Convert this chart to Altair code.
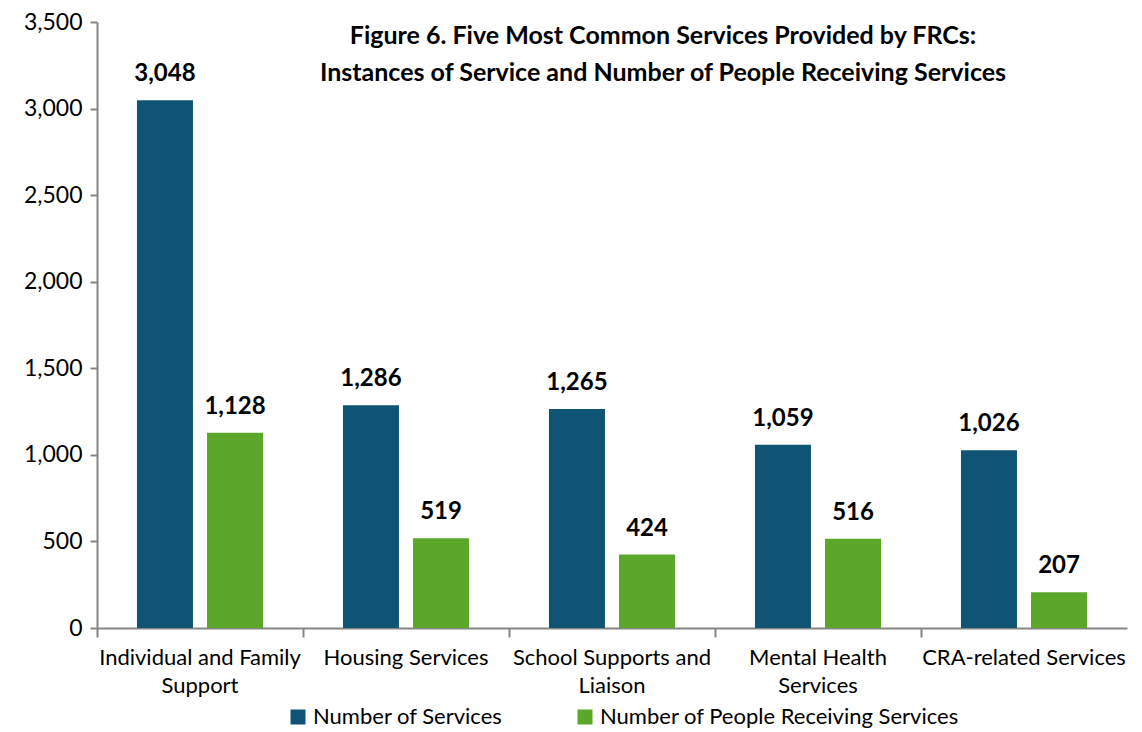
import altair as alt
import pandas as pd

categories = ["Individual and Family|Support", "Housing Services", "School Supports and|Liaison",
              "Mental Health|Services", "CRA-related Services"]
series = ["Number of Services", "Number of People Receiving Services"]
services = [3048, 1286, 1265, 1059, 1026]
people = [1128, 519, 424, 516, 207]
y_ticks = [0, 500, 1000, 1500, 2000, 2500, 3000, 3500]

rows = []
for c, a, b in zip(categories, services, people):
    rows.append({"cat": c, "series": series[0], "value": a})
    rows.append({"cat": c, "series": series[1], "value": b})
df = pd.DataFrame(rows)

FONT = "Lato"
AX = "#868686"

x = alt.X("cat:N", sort=categories, title=None,
          scale=alt.Scale(paddingInner=0, paddingOuter=0),
          axis=alt.Axis(labelAngle=0, labelExpr="split(datum.label, '|')",
                        bandPosition=0, labelFontSize=22, labelFont=FONT, labelLimit=400,
                        labelColor="#000000", labelPadding=10, labelLineHeight=28,
                        domainColor=AX, tickColor=AX, tickSize=9, domainWidth=2, tickWidth=2))
xo = alt.XOffset("series:N", sort=series,
                 scale=alt.Scale(paddingInner=0.2, paddingOuter=0.57))
y = alt.Y("value:Q", title=None,
          scale=alt.Scale(domain=[0, 3500], nice=False),
          axis=alt.Axis(values=y_ticks, format=",.0f", grid=False, labelFontSize=23, labelFont=FONT,
                        labelColor="#000000", labelPadding=8, domainColor=AX, tickColor=AX,
                        tickSize=7, domainWidth=2, tickWidth=2))
color = alt.Color("series:N", sort=series,
                  scale=alt.Scale(domain=series, range=["#0F5475", "#5BA72A"]),
                  legend=alt.Legend(title=None, orient="none", legendX=190, legendY=684,
                                    direction="horizontal",
                                    symbolType="square", symbolSize=225, symbolStrokeWidth=0,
                                    labelFontSize=22, labelFont=FONT, labelColor="#000000",
                                    labelLimit=500, columnPadding=71, labelOffset=4,
                                    symbolOpacity=1))

bars = alt.Chart(df).mark_bar(size=56, opacity=1).encode(x=x, xOffset=xo, y=y, color=color)
labels = alt.Chart(df).mark_text(baseline="bottom", dy=-14, fontSize=24, fontWeight="bold",
                                 font=FONT, color="#000000").encode(
    x=x, xOffset=xo, y=y, text=alt.Text("value:Q", format=","))

chart = (bars + labels).properties(
    width=1030, height=606,
    padding={"left": 15, "top": 3, "right": 2, "bottom": 0},
    title=alt.TitleParams(
        text=["Figure 6. Five Most Common Services Provided by FRCs:",
              "Instances of Service and Number of People Receiving Services"],
        anchor="middle", fontSize=25, font=FONT, fontWeight="bold", color="#000000",
        lineHeight=37, offset=-75, dx=51, baseline="top")
).configure_view(stroke=None)

chart.save("out.html", embed_options={"renderer": "svg", "actions": False})
